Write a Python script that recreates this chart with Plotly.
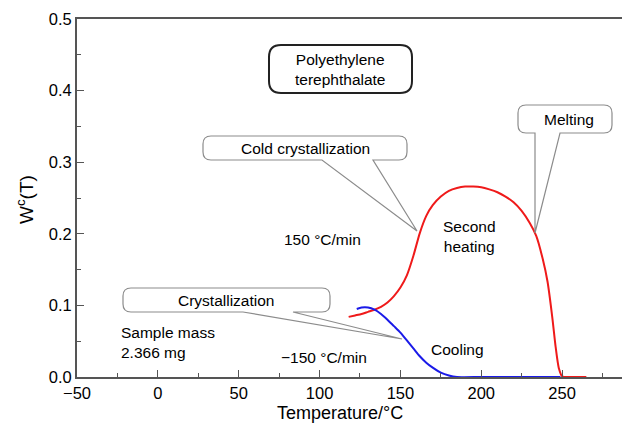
import plotly.graph_objects as go

# ---- data ----
heat_T = [118, 122, 126, 130, 134, 138, 142, 146, 150, 154, 158, 162, 166, 170, 175,
          180, 185, 190, 195, 200, 205, 210, 215, 220, 225, 230, 234, 238, 241, 244,
          246, 248, 250, 255, 260, 265]
heat_W = [0.084, 0.086, 0.088, 0.091, 0.094, 0.098, 0.104, 0.113, 0.125, 0.142, 0.169,
          0.201, 0.225, 0.240, 0.252, 0.260, 0.264, 0.266, 0.266, 0.265, 0.262, 0.258,
          0.252, 0.244, 0.232, 0.215, 0.197, 0.165, 0.133, 0.082, 0.042, 0.012, 0.001,
          0.0, 0.0, 0.0]
cool_T = [123, 126, 130, 134, 138, 142, 146, 150, 154, 158, 162, 166, 170, 175, 180,
          185, 200, 220, 240, 249]
cool_W = [0.095, 0.097, 0.097, 0.094, 0.088, 0.080, 0.071, 0.062, 0.051, 0.040, 0.029,
          0.020, 0.013, 0.006, 0.002, 0.0, 0.0, 0.0, 0.0, 0.0]

x_ticks = [-50, 0, 50, 100, 150, 200, 250]
x_tick_text = ["\u221250", "0", "50", "100", "150", "200", "250"]
y_ticks = [0.0, 0.1, 0.2, 0.3, 0.4, 0.5]
y_tick_text = ["0.0", "0.1", "0.2", "0.3", "0.4", "0.5"]

FONT = "Liberation Sans, Arial, Helvetica, sans-serif"
ANN = 15.5

# plot-area geometry in pixels (used only to place callout decorations)
ML, MT, MR, MB = 77, 19, 0, 56
W_FIG, H_FIG = 622, 433
PW = W_FIG - ML - MR
PH = H_FIG - MT - MB


def px(x, y):
    return (x - ML) / PW, (H_FIG - MB - y) / PH


def callout(x0, y0, x1, y1, r, tail=None):
    pts = []

    def M(c, x, y):
        a, b = px(x, y)
        pts.append(f"{c} {a:.5f},{b:.5f}")

    def Q(cx, cy, x, y):
        a, b = px(cx, cy)
        c, d = px(x, y)
        pts.append(f"Q {a:.5f},{b:.5f} {c:.5f},{d:.5f}")

    M("M", x0 + r, y0)
    M("L", x1 - r, y0)
    Q(x1, y0, x1, y0 + r)
    M("L", x1, y1 - r)
    Q(x1, y1, x1 - r, y1)
    if tail:
        a, b, tx, ty = tail
        M("L", b, y1)
        M("L", tx, ty)
        M("L", a, y1)
    M("L", x0 + r, y1)
    Q(x0, y1, x0, y1 - r)
    M("L", x0, y0 + r)
    Q(x0, y0, x0 + r, y0)
    pts.append("Z")
    return " ".join(pts)


fig = go.Figure()
fig.add_trace(go.Scatter(x=heat_T, y=heat_W, mode="lines",
                         line=dict(color="#ef1a1a", width=2, shape="spline", smoothing=0.7),
                         showlegend=False, hoverinfo="skip"))
fig.add_trace(go.Scatter(x=cool_T, y=cool_W, mode="lines",
                         line=dict(color="#1a1ae8", width=2, shape="spline", smoothing=0.7),
                         showlegend=False, hoverinfo="skip"))

gray = "#8c8c8c"
shapes = [
    dict(type="path", xref="paper", yref="paper", path=callout(269, 45, 412, 93, 12),
         line=dict(color="#222222", width=2), fillcolor="white", layer="above"),
    dict(type="path", xref="paper", yref="paper",
         path=callout(203, 136, 407, 160, 8, tail=(322, 373, 417, 231)),
         line=dict(color=gray, width=1.2), fillcolor="white", layer="above"),
    dict(type="path", xref="paper", yref="paper",
         path=callout(518, 105, 612, 133, 8, tail=(535, 560, 535, 233)),
         line=dict(color=gray, width=1.2), fillcolor="white", layer="above"),
    dict(type="path", xref="paper", yref="paper",
         path=callout(123, 288, 330, 312, 8, tail=(243, 293, 402, 339)),
         line=dict(color=gray, width=1.2), fillcolor="white", layer="above"),
]


def text(x, y, s, size=ANN, xanchor="center", align="center"):
    a, b = px(x, y)
    return dict(x=a, y=b, xref="paper", yref="paper", text=s, showarrow=False,
                xanchor=xanchor, yanchor="middle", align=align,
                font=dict(family=FONT, size=size, color="black"))


annotations = [
    text(340, 69, "Polyethylene<br>terephthalate"),
    text(305, 148, "Cold crystallization"),
    text(569, 120, "Melting"),
    text(226, 300, "Crystallization"),
    text(322, 239, "150 °C/min"),
    text(469, 236, "Second<br>heating"),
    text(457, 349, "Cooling"),
    text(324, 357, "\u2212150 °C/min"),
    text(119, 342, "Sample mass<br>2.366 mg", xanchor="left", align="left"),
]
# axis titles
ax, ay = px(25, 200)
annotations.append(dict(x=ax, y=ay, xref="paper", yref="paper", text="W<sup>c</sup>(T)", showarrow=False,
                        textangle=-90, xanchor="center", yanchor="middle",
                        font=dict(family=FONT, size=19, color="black")))
tx, ty = px(340, 413)
annotations.append(dict(x=tx, y=ty, xref="paper", yref="paper", text="Temperature/°C", showarrow=False,
                        xanchor="center", yanchor="middle", font=dict(family=FONT, size=18, color="black")))

fig.update_layout(
    width=W_FIG, height=H_FIG,
    margin=dict(l=ML, r=MR, t=MT, b=MB, pad=0),
    paper_bgcolor="white", plot_bgcolor="white",
    font=dict(family=FONT, size=15, color="black"),
    shapes=shapes, annotations=annotations,
    xaxis=dict(range=[-50, -50 + PW / 1.617], tickvals=x_ticks, ticktext=x_tick_text,
               ticks="inside", ticklen=7, tickwidth=1.3, tickcolor="#555555",
               showline=True, linecolor="#555555", linewidth=2, mirror=True,
               showgrid=False, zeroline=False, tickfont=dict(size=16.5),
               minor=dict(dtick=25, tick0=-50, ticks="inside", ticklen=4, tickwidth=1.2, tickcolor="#555555")),
    yaxis=dict(range=[0, 0.5], tickvals=y_ticks, ticktext=y_tick_text,
               ticks="inside", ticklen=7, tickwidth=1.3, tickcolor="#555555",
               showline=True, linecolor="#555555", linewidth=2, mirror=False,
               showgrid=False, zeroline=False, tickfont=dict(size=16.5),
               minor=dict(dtick=0.05, tick0=0, ticks="inside", ticklen=4, tickwidth=1.2, tickcolor="#555555")),
)

fig.write_html("out.html")
